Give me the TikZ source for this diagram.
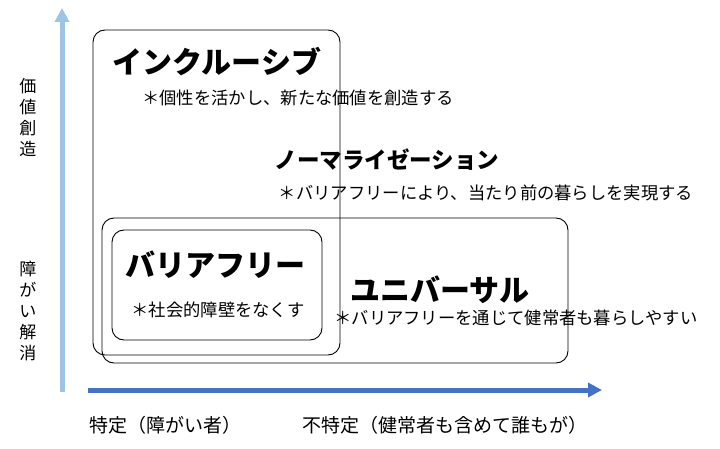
\documentclass[tikz,border=0pt]{standalone}
\usepackage{fontspec}
\setmainfont{Noto Sans CJK JP}
\usetikzlibrary{arrows.meta}
\definecolor{axislight}{HTML}{9DC3E6}
\definecolor{axisdark}{HTML}{4472C4}
\begin{document}
\begin{tikzpicture}[x=1pt, y=-1pt,
    area/.style={draw, rounded corners=12pt, line width=0.9pt},
    title/.style={font=\fontsize{30}{33}\selectfont\bfseries},
    subtitle/.style={font=\fontsize{22.5}{26}\selectfont\bfseries},
    note/.style={font=\fontsize{17.3}{21}\selectfont},
    axislabel/.style={font=\fontsize{19}{22}\selectfont, align=center},
    sidelabel/.style={font=\fontsize{17}{21}\selectfont, align=center},
    axis/.style={line width=5pt, -{Triangle[length=14pt, width=14pt]}}]
\useasboundingbox (0,0) rectangle (720,449);

% areas
\draw[area] (93,30) rectangle (340,355);
\draw[area] (102,218) rectangle (568,363);
\draw[area] (112,230) rectangle (322,340);

% axes
\coordinate (yfrom) at (62,392);
\coordinate (yto) at (62,8);
\coordinate (xfrom) at (88,390);
\coordinate (xto) at (602,390);
\draw[axis, axislight] (yfrom) -- (yto);
\draw[axis, axisdark] (xfrom) -- (xto);

% axis labels
\node[sidelabel] (create) at (28,117) {価\\値\\創\\造};
\node[sidelabel] (remove) at (28,311) {障\\が\\い\\解\\消};
\node[axislabel] (specific) at (165,425) {特定（障がい者）};
\node[axislabel] (general) at (445,425) {不特定（健常者も含めて誰もが）};

% texts
\node[title] (inclusive) at (217,62) {インクルーシブ};
\node[note] (inclusivenote) at (298,98) {＊個性を活かし、新たな価値を創造する};
\node[subtitle] (normal) at (387,160) {ノーマライゼーション};
\node[note] (normalnote) at (486,193) {＊バリアフリーにより、当たり前の暮らしを実現する};
\node[title] (barrier) at (215,265) {バリアフリー};
\node[note] (barriernote) at (218,310) {＊社会的障壁をなくす};
\node[title] (universal) at (440,290) {ユニバーサル};
\node[note] (universalnote) at (516,318) {＊バリアフリーを通じて健常者も暮らしやすい};
\end{tikzpicture}
\end{document}
